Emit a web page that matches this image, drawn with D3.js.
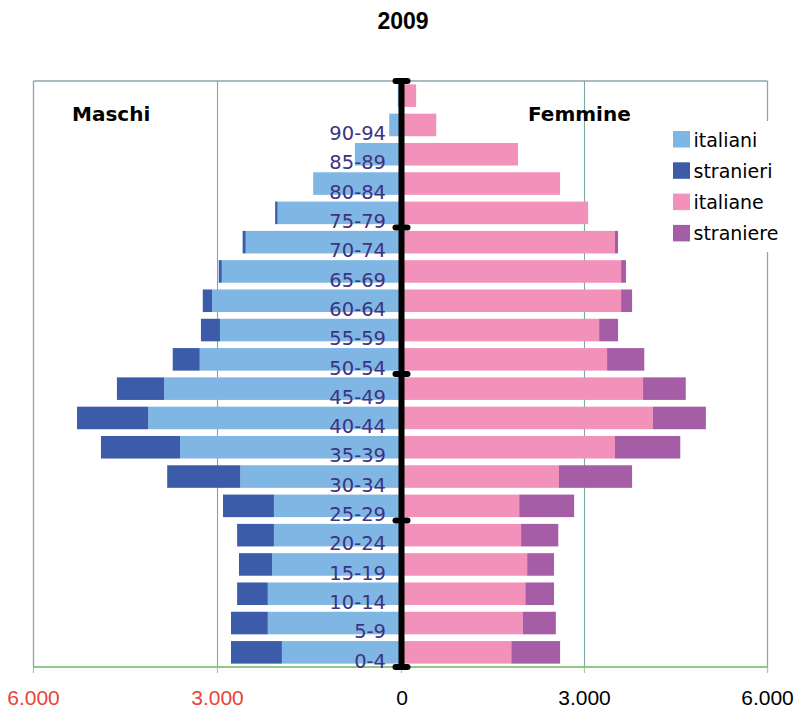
<!DOCTYPE html>
<html>
<head>
<meta charset="utf-8">
<script src="https://cdn.jsdelivr.net/npm/d3@7/dist/d3.min.js"></script>
<style>
  html, body { margin: 0; padding: 0; background: #ffffff; }
  svg { display: block; }
</style>
</head>
<body>
<svg id="chart" width="799" height="708"></svg>
<script>
// ---- data (top-level named arrays) ----
const ageGroups = ["0-4","5-9","10-14","15-19","20-24","25-29","30-34","35-39","40-44","45-49",
                   "50-54","55-59","60-64","65-69","70-74","75-79","80-84","85-89","90-94","95+"];
const ageLabels = ["0-4","5-9","10-14","15-19","20-24","25-29","30-34","35-39","40-44","45-49",
                   "50-54","55-59","60-64","65-69","70-74","75-79","80-84","85-89","90-94",""];
const italiani  = [1950,2180,2180,2110,2080,2080,2630,3610,4130,3870,3290,2960,3090,2930,2540,2020,1440,760,200,60];
const stranieri = [830,600,500,540,600,830,1190,1290,1160,770,440,310,150,50,50,40,0,0,0,0];
const italiane  = [1800,1990,2030,2060,1960,1930,2580,3500,4120,3960,3370,3240,3600,3600,3500,3060,2600,1910,570,240];
const straniere = [800,540,470,440,610,900,1200,1070,870,700,610,310,180,80,50,0,0,0,0,0];
const seriesNames = ["italiani","stranieri","italiane","straniere"];
const seriesColors = ["#7fb6e3","#3c5ba8","#f292bb","#a55ea5"];
const xTicks = [-6000,-3000,0,3000,6000];
const xTickLabels = ["6.000","3.000","0","3.000","6.000"];
const chartTitle = "2009";
const leftTitle = "Maschi";
const rightTitle = "Femmine";

(function () {
// ---- layout ----
const svg = d3.select("#chart");
const pTop = 81, pBottom = 667, pLeft = 33.5, pRight = 767.5, zeroX = 401.5;

const x = d3.scaleLinear().domain([-6000, 0, 6000]).range([pLeft, zeroX, pRight]);
const y = d3.scaleBand().domain(ageGroups.slice().reverse()).range([pTop, pBottom])
  .paddingInner(0.23).paddingOuter(0.115);
const step = y.step();

// title
svg.append("text").attr("x", 403).attr("y", 29).attr("text-anchor", "middle")
  .attr("font-family", "Liberation Sans, Arial, sans-serif").attr("font-weight", "bold")
  .attr("font-size", 23).attr("fill", "#000").text(chartTitle);

// plot border (top, left, right)
const borderColor = "#8fa3ad";
svg.append("line").attr("x1", pLeft).attr("x2", pRight).attr("y1", pTop).attr("y2", pTop)
  .attr("stroke", borderColor).attr("stroke-width", 1.3);
svg.append("line").attr("x1", pLeft).attr("x2", pLeft).attr("y1", pTop).attr("y2", pBottom)
  .attr("stroke", borderColor).attr("stroke-width", 1.3);
svg.append("line").attr("x1", pRight).attr("x2", pRight).attr("y1", pTop).attr("y2", pBottom)
  .attr("stroke", borderColor).attr("stroke-width", 1.3);

// gridlines at +-3000
svg.selectAll("line.grid").data([-3000, 3000]).enter().append("line").attr("class", "grid")
  .attr("x1", d => x(d)).attr("x2", d => x(d)).attr("y1", pTop).attr("y2", pBottom)
  .attr("stroke", "#79aaa8").attr("stroke-width", 1.1);

// bars
const rows = ageGroups.map((a, i) => ({
  age: a, label: ageLabels[i],
  itM: italiani[i], stM: stranieri[i], itF: italiane[i], stF: straniere[i]
}));
const gBars = svg.append("g");
gBars.selectAll("rect.itM").data(rows).enter().append("rect")
  .attr("x", d => x(-d.itM)).attr("width", d => x(0) - x(-d.itM))
  .attr("y", d => y(d.age)).attr("height", y.bandwidth()).attr("fill", seriesColors[0]);
gBars.selectAll("rect.stM").data(rows.filter(d => d.stM > 0)).enter().append("rect")
  .attr("x", d => x(-(d.itM + d.stM))).attr("width", d => x(-d.itM) - x(-(d.itM + d.stM)))
  .attr("y", d => y(d.age)).attr("height", y.bandwidth()).attr("fill", seriesColors[1]);
gBars.selectAll("rect.itF").data(rows).enter().append("rect")
  .attr("x", x(0)).attr("width", d => x(d.itF) - x(0))
  .attr("y", d => y(d.age)).attr("height", y.bandwidth()).attr("fill", seriesColors[2]);
gBars.selectAll("rect.stF").data(rows.filter(d => d.stF > 0)).enter().append("rect")
  .attr("x", d => x(d.itF)).attr("width", d => x(d.itF + d.stF) - x(d.itF))
  .attr("y", d => y(d.age)).attr("height", y.bandwidth()).attr("fill", seriesColors[3]);

// bottom axis (green)
svg.append("line").attr("x1", pLeft).attr("x2", pRight).attr("y1", pBottom).attr("y2", pBottom)
  .attr("stroke", "#6cb35f").attr("stroke-width", 1.3);
svg.selectAll("line.xtick").data(xTicks).enter().append("line")
  .attr("x1", d => x(d)).attr("x2", d => x(d)).attr("y1", pBottom).attr("y2", pBottom + 6)
  .attr("stroke", "#9fd394").attr("stroke-width", 1.3);
svg.selectAll("text.xtick").data(xTicks).enter().append("text")
  .attr("x", d => x(d) + (d === 0 ? 0.5 : 0)).attr("y", 705).attr("text-anchor", "middle")
  .attr("font-family", "Liberation Sans, Arial, sans-serif").attr("font-size", 21)
  .attr("fill", d => d < 0 ? "#ea4335" : "#000")
  .text((d, i) => xTickLabels[i]);

// category labels
svg.selectAll("text.cat").data(rows.filter(d => d.label !== "")).enter().append("text")
  .attr("x", 386).attr("y", d => y(d.age) + y.bandwidth() / 2 + step / 2 + 0.5)
  .attr("text-anchor", "end")
  .attr("font-family", "DejaVu Sans, Verdana, sans-serif").attr("font-size", 19.5)
  .attr("fill", "#3d3383").text(d => d.label);

// black central axis with caps every 5 groups
svg.append("line").attr("x1", zeroX).attr("x2", zeroX).attr("y1", pTop).attr("y2", pBottom)
  .attr("stroke", "#000").attr("stroke-width", 6);
const capYs = [0, 5, 10, 15, 20].map(k => pBottom - k * step);
svg.selectAll("line.cap").data(capYs).enter().append("line")
  .attr("x1", zeroX - 6).attr("x2", zeroX + 6).attr("y1", d => d).attr("y2", d => d)
  .attr("stroke", "#000").attr("stroke-width", 6).attr("stroke-linecap", "round");

// side titles
svg.append("text").attr("x", 72).attr("y", 121)
  .attr("font-family", "DejaVu Sans, Verdana, sans-serif").attr("font-weight", "bold")
  .attr("font-size", 20).attr("fill", "#000").text(leftTitle);
svg.append("text").attr("x", 528).attr("y", 121)
  .attr("font-family", "DejaVu Sans, Verdana, sans-serif").attr("font-weight", "bold")
  .attr("font-size", 20).attr("fill", "#000").text(rightTitle);

// legend
const lg = svg.append("g");
lg.append("rect").attr("x", 664).attr("y", 121).attr("width", 135).attr("height", 131).attr("fill", "#fff");
const li = lg.selectAll("g.li").data(seriesNames).enter().append("g")
  .attr("transform", (d, i) => `translate(673, ${131 + i * 31.3})`);
li.append("rect").attr("width", 17).attr("height", 16.5).attr("fill", (d, i) => seriesColors[i]);
li.append("text").attr("x", 20.5).attr("y", 15.5)
  .attr("font-family", "DejaVu Sans, Verdana, sans-serif").attr("font-size", 19)
  .attr("fill", "#000").text(d => d);
})();
</script>
</body>
</html>
